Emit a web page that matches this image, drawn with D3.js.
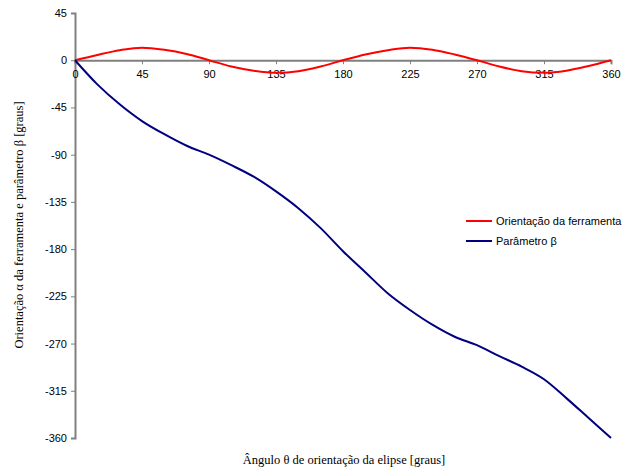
<!DOCTYPE html>
<html>
<head>
<meta charset="UTF-8">
<script src="https://d3js.org/d3.v7.min.js"></script>
<style>
  body { margin: 0; background: #fff; }
  .tick text { font-family: "Liberation Sans", Arial, sans-serif; font-size: 11px; fill: #000; }
  .axis-title { font-family: "Liberation Serif", "Times New Roman", serif; font-size: 12.5px; fill: #000; }
  .legend text { font-family: "Liberation Sans", Arial, sans-serif; font-size: 11px; fill: #000; }
</style>
</head>
<body>
<svg id="chart"></svg>
<script>
  // angle of the ellipse (degrees)
  const theta = [0, 15, 30, 45, 60, 75, 90, 105, 120, 135, 150, 165, 180,
                 195, 210, 225, 240, 255, 270, 285, 300, 315, 330, 345, 360];
  // tool orientation alpha
  const alpha = [0, 5, 9.5, 12, 10, 6, 0, -6, -10, -12, -10.5, -6, 0,
                 5.5, 9.5, 12, 10, 5.5, 0, -6, -10.5, -12, -10, -5.5, 0];
  // parameter beta
  const beta = [0, -23, -42, -58, -70.5, -81.5, -90, -100, -111, -125, -141, -160, -182,
                -202, -222, -238, -252, -263.5, -271.5, -282, -292, -304, -322, -341, -360];
  const xTicks = [0, 45, 90, 135, 180, 225, 270, 315, 360];
  const yTicks = [45, 0, -45, -90, -135, -180, -225, -270, -315, -360];
  const seriesNames = ["Orientação da ferramenta", "Parâmetro β"];
  const seriesColors = ["#ff0000", "#000080"];

  const W = 629, H = 471;
  const svg = d3.select("#chart").attr("width", W).attr("height", H);

  const x = d3.scaleLinear().domain([0, 360]).range([75, 611]);
  const y = d3.scaleLinear().domain([45, -360]).range([13, 438]);

  const fmt = d => String(d); // plain hyphen minus like the original

  // y axis
  const yAxis = svg.append("g")
    .attr("transform", `translate(${x(0)},0)`)
    .call(d3.axisLeft(y).tickValues(yTicks).tickFormat(fmt).tickSize(4).tickPadding(4));

  // x axis sits on zero
  const xAxis = svg.append("g")
    .attr("transform", `translate(0,${y(0)})`)
    .call(d3.axisBottom(x).tickValues(xTicks).tickFormat(fmt).tickSize(4).tickPadding(6));

  [xAxis, yAxis].forEach(g => {
    g.select(".domain").attr("stroke", "#808080").attr("stroke-width", 2);
    g.selectAll(".tick line").attr("stroke", "#808080").attr("stroke-width", 1);
  });

  // series
  const line = d3.line()
    .x((d, i) => x(theta[i]))
    .y(d => y(d))
    .curve(d3.curveMonotoneX);

  [alpha, beta].forEach((s, k) => {
    svg.append("path")
      .datum(s)
      .attr("d", line)
      .attr("fill", "none")
      .attr("stroke", seriesColors[k])
      .attr("stroke-width", 2);
  });

  // legend
  const legend = svg.append("g").attr("class", "legend")
    .attr("transform", "translate(466,221)");
  seriesNames.forEach((n, k) => {
    const g = legend.append("g").attr("transform", `translate(0,${k * 20})`);
    g.append("line").attr("x1", 0).attr("x2", 26).attr("y1", 0).attr("y2", 0)
      .attr("stroke", seriesColors[k]).attr("stroke-width", 2);
    g.append("text").attr("x", 30).attr("y", 0).attr("dy", "0.35em").text(n);
  });

  // axis titles
  svg.append("text").attr("class", "axis-title")
    .attr("x", 344).attr("y", 464)
    .attr("text-anchor", "middle")
    .text("Ângulo θ de orientação da elipse [graus]");

  svg.append("text").attr("class", "axis-title")
    .attr("transform", "translate(23,225) rotate(-90)")
    .attr("text-anchor", "middle")
    .text("Orientação α da ferramenta e parâmetro β [graus]");
</script>
</body>
</html>
